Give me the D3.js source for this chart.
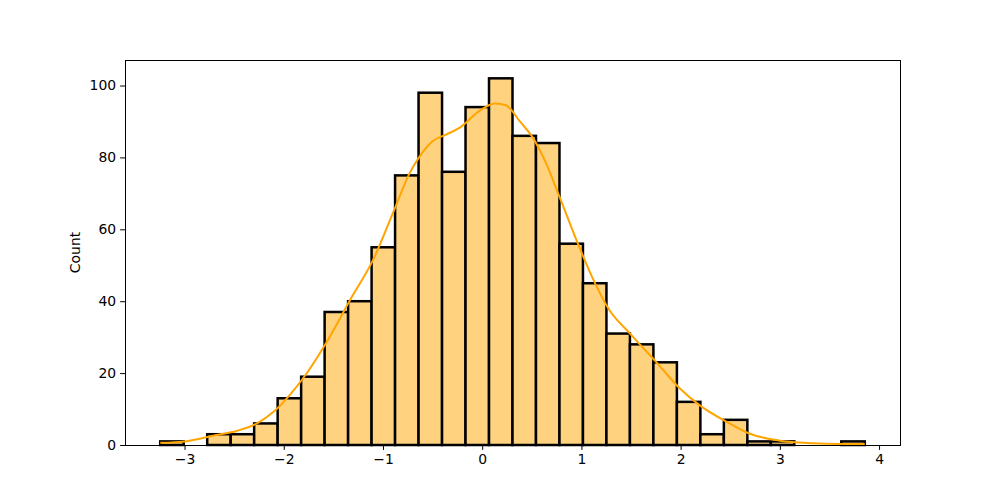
<!DOCTYPE html>
<html>
<head>
<meta charset="utf-8">
<script src="https://cdn.jsdelivr.net/npm/d3@7.9.0/dist/d3.min.js"></script>
<style>
  body { margin: 0; background: #fff; }
  svg { font-family: "DejaVu Sans", sans-serif; }
</style>
</head>
<body>
<svg width="1000" height="500"></svg>
<script>
// histogram: 30 bins starting at binStart, each binWidth wide
const binStart = -3.245;
const binWidth = 0.2367;
const counts = [1, 0, 3, 3, 6, 13, 19, 37, 40, 55, 75, 98, 76, 94, 102,
                86, 84, 56, 45, 31, 28, 23, 12, 3, 7, 1, 1, 0, 0, 1];

// kde curve (x value, count scale)
const kdeX = [-3.245, -3.0, -2.68, -2.475, -2.27, -2.1, -1.94, -1.77, -1.57, -1.33,
              -1.1, -0.9, -0.73, -0.63, -0.5, -0.36, -0.23, -0.03, 0.13, 0.24,
              0.38, 0.51, 0.65, 0.78, 0.95, 1.12, 1.28, 1.49, 1.75, 1.99,
              2.19, 2.46, 2.69, 3.0, 3.33, 3.6, 3.856];
const kdeY = [0.6, 1.0, 2.8, 3.9, 6.0, 9.3, 13.9, 19.9, 28.5, 40.4,
              51.5, 64.5, 75.7, 80.3, 84.5, 86.4, 88.2, 92.9, 95, 94.5,
              90, 85.5, 78, 69, 57, 46, 37.6, 31, 23.2, 15.8,
              11.1, 6.5, 3.2, 1.2, 0.5, 0.3, 0.3];

const xTicks = [-3, -2, -1, 0, 1, 2, 3, 4];
const yTicks = [0, 20, 40, 60, 80, 100];

const margin = {left: 125, right: 100, top: 60, bottom: 55};
const W = 1000, H = 500;

const svg = d3.select('svg');

const bins = counts.map((c, i) => ({x0: binStart + i * binWidth, x1: binStart + (i + 1) * binWidth, n: c}));
const lo = binStart, hi = binStart + counts.length * binWidth;
const pad = (hi - lo) * 0.05;

let x = d3.scaleLinear().domain([lo - pad, hi + pad]).range([margin.left, W - margin.right]);
let y = d3.scaleLinear().domain([0, d3.max(counts) * 1.05]).range([H - margin.bottom, margin.top]);

let plot = svg.append('g');
plot.selectAll('rect')
    .data(bins)
    .join('rect')
    .attr('x', d => x(d.x0))
    .attr('width', d => x(d.x1) - x(d.x0))
    .attr('y', d => y(d.n))
    .attr('height', d => y(0) - y(d.n))
    .attr('fill', '#ffd280')
    .attr('stroke', '#000')
    .attr('stroke-width', 2.5);

let kdeLine = d3.line()
    .x(d => x(d[0]))
    .y(d => y(d[1]))
    .curve(d3.curveMonotoneX);

plot.append('path')
    .attr('d', kdeLine(kdeX.map((v, i) => [v, kdeY[i]])))
    .attr('fill', 'none')
    .attr('stroke', '#ffa500')
    .attr('stroke-width', 2);

const fmt = v => (v < 0 ? '\u2212' + Math.abs(v) : String(v));

let xAxis = svg.append('g')
    .attr('transform', `translate(0,${H - margin.bottom})`)
    .call(d3.axisBottom(x).tickValues(xTicks).tickFormat(fmt).tickSizeOuter(0).tickSize(4.9).tickPadding(4));
let yAxis = svg.append('g')
    .attr('transform', `translate(${margin.left},0)`)
    .call(d3.axisLeft(y).tickValues(yTicks).tickFormat(fmt).tickSizeOuter(0).tickSize(4.9).tickPadding(4));

[xAxis, yAxis].forEach(a => {
    a.select('.domain').remove();
    a.selectAll('line').attr('stroke', '#000').attr('stroke-width', 1);
    a.selectAll('text').attr('font-size', '13.9px').attr('fill', '#000').attr('font-family', '"DejaVu Sans", sans-serif');
});

// frame
svg.append('rect')
    .attr('x', margin.left + 0.5)
    .attr('y', margin.top + 0.5)
    .attr('width', W - margin.left - margin.right)
    .attr('height', H - margin.top - margin.bottom)
    .attr('fill', 'none')
    .attr('stroke', '#000')
    .attr('stroke-width', 1)
    .attr('shape-rendering', 'crispEdges');

svg.append('text')
    .attr('transform', `translate(80,${(margin.top + H - margin.bottom) / 2}) rotate(-90)`)
    .attr('text-anchor', 'middle')
    .attr('font-size', '13.9px')
    .text('Count');
</script>
</body>
</html>
